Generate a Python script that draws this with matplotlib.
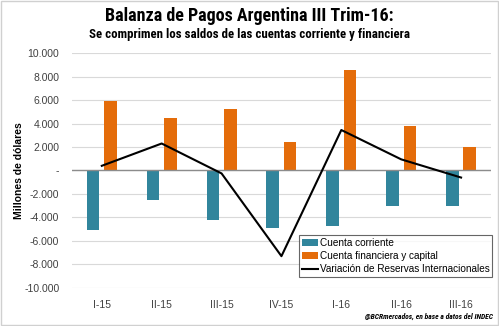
import numpy as np
import matplotlib.pyplot as plt
from matplotlib.ticker import FuncFormatter
from matplotlib.patches import Rectangle

# Balanza de pagos por trimestre (millones de USD)
trimestres = ["I-15", "II-15", "III-15", "IV-15", "I-16", "II-16", "III-16"]
cuenta_corriente = [-5100, -2500, -4200, -4900, -4700, -3050, -3000]
cuenta_financiera = [5900, 4500, 5200, 2450, 8550, 3750, 2000]
var_reservas = [400, 2300, -250, -7300, 3450, 950, -600]

AZUL = "#31859C"
NARANJA = "#E46C0A"
FAM = ["Roboto Condensed", "Roboto", "DejaVu Sans"]

plt.rcParams["font.family"] = ["Liberation Sans", "DejaVu Sans"]

fig = plt.figure(figsize=(4.99, 3.26), dpi=100)
fig.patches.append(Rectangle((0.002, 0.003), 0.995, 0.994, transform=fig.transFigure,
                             fill=False, edgecolor="#D0D0D0", linewidth=1))
ax = fig.add_axes([0.144, 0.117, 0.84, 0.72])

x = np.arange(len(trimestres))
w = 0.21
b1 = ax.bar(x - 0.145, cuenta_corriente, w, color=AZUL, label="Cuenta corriente", zorder=3)
b2 = ax.bar(x + 0.145, cuenta_financiera, w, color=NARANJA, label="Cuenta financiera y capital", zorder=3)
l1, = ax.plot(x, var_reservas, color="black", linewidth=1.5,
              label="Variación de Reservas Internacionales", zorder=4)

ax.axhline(0, color="#8C8C8C", linewidth=1, zorder=3)
ax.set_xlim(-0.5, len(trimestres) - 0.5)
ax.set_ylim(-10000, 10000)
ax.set_yticks(np.arange(-10000, 10001, 2000))
ax.yaxis.set_major_formatter(FuncFormatter(
    lambda v, p: "-" if v == 0 else f"{v:,.0f}".replace(",", ".")))
ax.set_xticks(x)
ax.set_xticklabels(trimestres)
ax.tick_params(length=0, labelsize=7.5, colors="#404040")
ax.tick_params(axis="x", pad=9)
ax.tick_params(axis="y", pad=9)
ax.grid(axis="y", color="#D9D9D9", linewidth=0.8, zorder=0)
for s in ax.spines.values():
    s.set_visible(False)

ax.set_ylabel("Millones de dólares", fontsize=7.5, fontweight="bold")
ax.yaxis.set_label_coords(-0.115, 0.5)

leg = ax.legend([b1, b2, l1], [b1.get_label(), b2.get_label(), l1.get_label()],
                loc="lower right", bbox_to_anchor=(1.003, 0.045), fontsize=7.2,
                frameon=True, fancybox=False, edgecolor="#404040",
                handlelength=1.6, handleheight=0.7, handletextpad=0.2,
                borderpad=0.3, labelspacing=0.3, borderaxespad=0)
leg.get_frame().set_linewidth(0.8)

fig.text(0.5, 0.952, "Balanza de Pagos Argentina III Trim-16:", ha="center", va="center",
         fontsize=13, fontweight="bold", family=FAM)
fig.text(0.5, 0.895, "Se comprimen los saldos de las cuentas corriente y financiera",
         ha="center", va="center", fontsize=9.3, fontweight="bold", family=FAM)
fig.text(0.988, 0.028, "@BCRmercados, en base a datos del INDEC", ha="right", va="center",
         fontsize=5.5, fontweight="bold", style="italic", family=FAM)

fig.savefig("out.png", dpi=100)
